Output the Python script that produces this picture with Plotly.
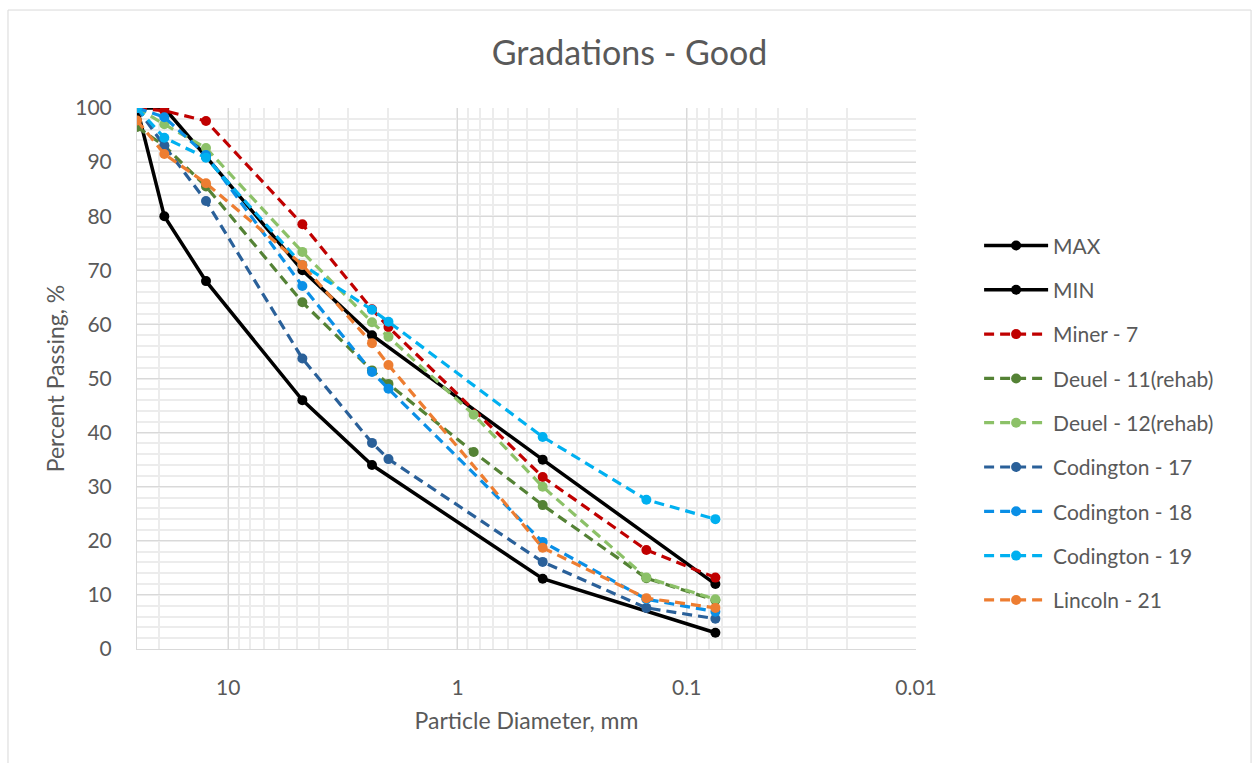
import plotly.graph_objects as go

# Sieve openings (mm) and percent passing for each gradation
sieves_band = [25, 19, 12.5, 4.75, 2.36, 0.425, 0.075]
max_pass = [100, 100, 91, 70, 58, 35, 12]
min_pass = [100, 80, 68, 46, 34, 13, 3]

sieves_std = [25, 19, 12.5, 4.75, 2.36, 2.0, 0.425, 0.15, 0.075]
sieves_ext = [25, 19, 12.5, 4.75, 2.36, 2.0, 0.85, 0.425, 0.15, 0.075]

miner_7 = [100, 99.5, 97.6, 78.5, 62.8, 59.5, 31.8, 18.3, 13.2]
deuel_11 = [96.5, 93, 85.5, 64.1, 51.5, 49.0, 36.4, 26.6, 13.1, 9.0]
deuel_12 = [100, 97, 92.6, 73.4, 60.4, 57.7, 43.3, 30.0, 13.2, 9.2]
codington_17 = [100, 93, 82.8, 53.7, 38.1, 35.1, 16.1, 7.6, 5.6]
codington_18 = [100, 98.3, 91.3, 67.1, 51.2, 48.1, 19.8, 9.2, 6.9]
codington_19 = [100, 94.5, 90.8, 71.0, 62.7, 60.5, 39.2, 27.6, 24.0]
lincoln_21 = [97.7, 91.5, 86.1, 71.0, 56.5, 52.5, 18.7, 9.4, 7.6]

x_tick_vals = [10, 1, 0.1, 0.01]
x_tick_text = ["10", "1", "0.1", "0.01"]
y_tick_vals = list(range(0, 101, 10))

FONT = "Lato, 'Open Sans', sans-serif"
TEXT_GREY = "#595959"

fig = go.Figure()

solid_series = [("MAX", sieves_band, max_pass), ("MIN", sieves_band, min_pass)]
for name, xs, ys in solid_series:
    fig.add_trace(go.Scatter(
        x=xs, y=ys, name=name, mode="lines+markers",
        line=dict(color="black", width=3.5),
        marker=dict(color="black", size=10),
        legendgroup=name,
    ))

dashed_series = [
    ("Miner - 7", sieves_std, miner_7, "#C00000"),
    ("Deuel - 11(rehab)", sieves_ext, deuel_11, "#548235"),
    ("Deuel - 12(rehab)", sieves_ext, deuel_12, "#8CC168"),
    ("Codington - 17", sieves_std, codington_17, "#2A6099"),
    ("Codington - 18", sieves_std, codington_18, "#0A8FE6"),
    ("Codington - 19", sieves_std, codington_19, "#00B0F0"),
    ("Lincoln - 21", sieves_std, lincoln_21, "#ED7D31"),
]
for name, xs, ys, color in dashed_series:
    fig.add_trace(go.Scatter(
        x=xs, y=ys, name=name, mode="lines+markers",
        line=dict(color=color, width=3.2, dash="10px,6px"),
        marker=dict(color=color, size=10),
        legendgroup=name,
    ))

# Chart frame around the whole figure
fig.add_shape(type="rect", xref="paper", yref="paper",
              x0=-0.1656, x1=1.4301, y0=-0.25, y1=1.1811,
              line=dict(color="#d9d9d9", width=1), fillcolor="rgba(0,0,0,0)",
              layer="below")

fig.update_layout(
    width=1259, height=763,
    margin=dict(l=137, r=343, t=108, b=114),
    paper_bgcolor="white", plot_bgcolor="white",
    font=dict(family=FONT, color=TEXT_GREY, size=21),
    title=dict(text="Gradations - Good", x=0.5, xanchor="center",
               xref="container", y=1 - 53 / 763, yanchor="middle",
               font=dict(size=34, color=TEXT_GREY, family=FONT)),
    showlegend=True,
    legend=dict(x=1.081, xanchor="left", y=0.418, yanchor="middle",
                font=dict(size=21, color=TEXT_GREY, family=FONT),
                traceorder="grouped", tracegroupgap=14,
                itemwidth=64, bgcolor="rgba(0,0,0,0)"),
    xaxis=dict(
        type="log", range=[1.39794, -2],
        tickvals=x_tick_vals, ticktext=x_tick_text,
        showgrid=True, gridcolor="#d9d9d9", gridwidth=1,
        minor=dict(dtick="D1", showgrid=True, gridcolor="#ececec", gridwidth=1.5),
        showline=True, linecolor="#d9d9d9", linewidth=1,
        ticks="", ticklabelstandoff=20,
        tickfont=dict(size=21, color=TEXT_GREY),
        title=dict(text="Particle Diameter, mm", standoff=14,
                   font=dict(size=23, color=TEXT_GREY)),
        zeroline=False,
    ),
    yaxis=dict(
        range=[0, 100], tickvals=y_tick_vals,
        showgrid=True, gridcolor="#d9d9d9", gridwidth=1,
        minor=dict(dtick=2, showgrid=True, gridcolor="#ececec", gridwidth=1.5),
        showline=True, linecolor="#d9d9d9", linewidth=1,
        ticks="", ticklabelstandoff=20,
        tickfont=dict(size=21, color=TEXT_GREY),
        title=dict(text="Percent Passing, %", standoff=4,
                   font=dict(size=23, color=TEXT_GREY)),
        zeroline=False,
    ),
)

fig.write_html("out.html")
